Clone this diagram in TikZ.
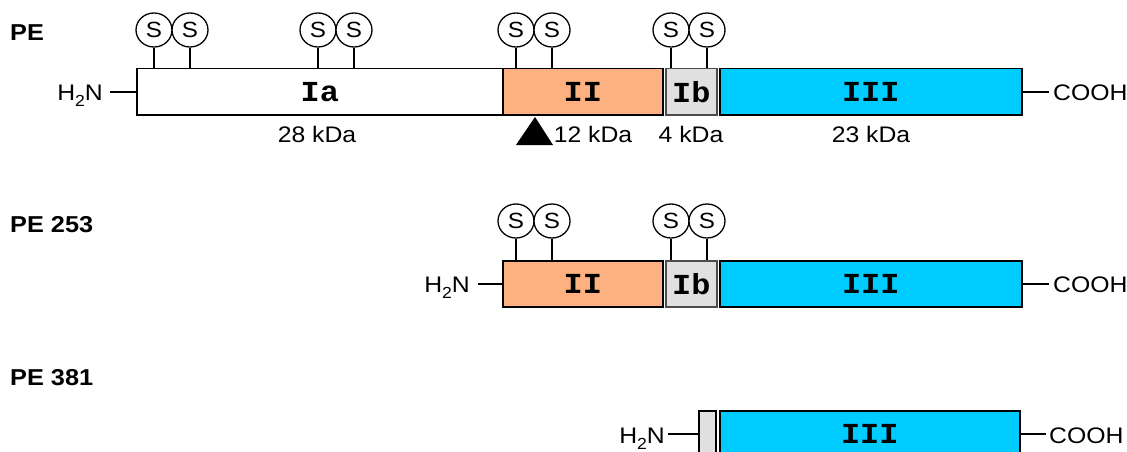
\documentclass[tikz,border=0pt]{standalone}
\usepackage{fontspec}
\setmainfont{Liberation Sans}[FakeStretch=1.1]
\newfontfamily\domfont{Liberation Mono}[FakeStretch=1.1]
\usetikzlibrary{shapes.geometric}
\definecolor{domII}{RGB}{253,176,128}
\definecolor{domIII}{RGB}{0,204,255}
\definecolor{domIb}{RGB}{224,224,224}
\newcommand{\amino}{H\raisebox{-0.3em}{\fontsize{16}{16}\selectfont 2}N}
\begin{document}
\begin{tikzpicture}[x=1pt,y=-1pt,
  lbl/.style={font=\fontsize{22.5}{24}\selectfont, inner sep=0pt},
  title/.style={font=\bfseries\fontsize{23}{24}\selectfont, inner sep=0pt, anchor=west},
  dom/.style={draw=black, line width=1.5pt, minimum height=46pt, inner sep=0pt,
    anchor=north west, font=\domfont\bfseries\fontsize{29}{29}\selectfont},
  ibdom/.style={dom, fill=domIb, draw=black!70},
  ssbond/.style={draw=black, line width=1.3pt, ellipse, minimum width=36pt,
    minimum height=34pt, inner sep=0pt, fill=white,
    font=\fontsize{22}{22}\selectfont},
  stem/.style={line width=1.5pt},
  tail/.style={line width=1.5pt}
]
\useasboundingbox (0,0) rectangle (1127,452);

% ---------- PE ----------
\node[title] (t1) at (10,33) {PE};
\node[dom, minimum width=366pt] (ia) at (136,68) {Ia};
\node[dom, fill=domII, minimum width=160pt] (ii) at (502,68) {II};
\node[ibdom, minimum width=51pt] (ib) at (665,68) {Ib};
\node[dom, fill=domIII, minimum width=302pt] (iii) at (719,68) {III};

\node[lbl, anchor=base east] (n1) at (103,100) {\amino};
\node[lbl, anchor=base west] (c1) at (1053,100) {COOH};
\draw[tail] (ia.west) -- ++(-26,0);
\draw[tail] (iii.east) -- ++(26,0);

\foreach \x/\n in {154/a,190/b,318/c,354/d,516/e,552/f,671/g,707/h}
  \node[ssbond] (s1\n) at (\x,30) {S};
\foreach \n in {a,b,c,d}
  \draw[stem] (s1\n.south) -- (s1\n.south |- ia.north);
\foreach \n in {e,f}
  \draw[stem] (s1\n.south) -- (s1\n.south |- ii.north);
\foreach \n in {g,h}
  \draw[stem] (s1\n.south) -- (s1\n.south |- ib.north);

\node[lbl, anchor=base] (k1) at (317,142) {28 kDa};
\node[lbl, anchor=base] (k2) at (593,142) {12 kDa};
\node[lbl, anchor=base] (k3) at (691,142) {4 kDa};
\node[lbl, anchor=base] (k4) at (871,142) {23 kDa};
\fill (535,117) -- (553,145) -- (516,145) -- cycle;

% ---------- PE 253 ----------
\node[title] (t2) at (10,225) {PE 253};
\node[dom, fill=domII, minimum width=160pt] (ii2) at (502,260) {II};
\node[ibdom, minimum width=51pt] (ib2) at (665,260) {Ib};
\node[dom, fill=domIII, minimum width=302pt] (iii2) at (719,260) {III};
\node[lbl, anchor=base east] (n2) at (470,292) {\amino};
\node[lbl, anchor=base west] (c2) at (1053,292) {COOH};
\draw[tail] (ii2.west) -- ++(-24,0);
\draw[tail] (iii2.east) -- ++(26,0);
\foreach \x/\n in {516/e,552/f,671/g,707/h}
  \node[ssbond] (s2\n) at (\x,221) {S};
\foreach \n in {e,f}
  \draw[stem] (s2\n.south) -- (s2\n.south |- ii2.north);
\foreach \n in {g,h}
  \draw[stem] (s2\n.south) -- (s2\n.south |- ib2.north);

% ---------- PE 381 ----------
\node[title] (t3) at (10,378) {PE 381};
\node[dom, fill=domIb, minimum width=17pt] (ib3) at (698,410) {};
\node[dom, fill=domIII, minimum width=300pt] (iii3) at (719,410) {III};
\node[lbl, anchor=base east] (n3) at (665,443) {\amino};
\node[lbl, anchor=base west] (c3) at (1049,443) {COOH};
\draw[tail] (ib3.west) -- ++(-30,0);
\draw[tail] (iii3.east) -- ++(25,0);
\end{tikzpicture}
\end{document}
